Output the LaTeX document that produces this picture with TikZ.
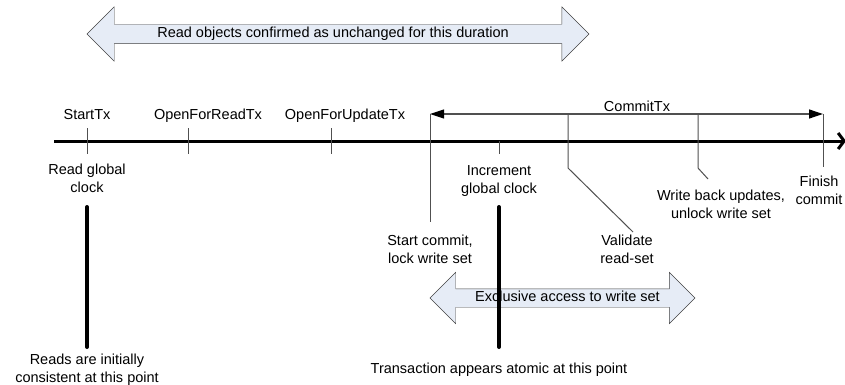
\documentclass[tikz,border=0pt]{standalone}
\usepackage{fontspec}
\setmainfont{Liberation Sans}
\usetikzlibrary{arrows.meta,shapes.arrows,positioning}
\definecolor{spanfill}{RGB}{230,236,246}
\definecolor{tickgray}{RGB}{80,80,80}

\begin{document}
\begin{tikzpicture}[x=1pt, y=-1pt]
      % fix the page to the size of the original drawing
      \useasboundingbox (0,0) rectangle (845,385);
      \tikzstyle{format} = [inner sep=0pt, align=center, font=\fontsize{14.5}{18}\selectfont]
      \tikzstyle{span} = [double arrow, draw=black!75, fill=spanfill, thin, double arrow tip angle=90, inner xsep=0pt, text height=10.5pt, text depth=3pt, font=\fontsize{14.5}{18}\selectfont]
      \tikzstyle{timeline} = [draw, line width=3pt, -{Straight Barb[length=6pt, width=16pt]}]
      \tikzstyle{tickline} = [draw=tickgray, line width=1pt]
      \tikzstyle{bracket} = [draw=tickgray, line width=1.2pt, {Triangle[length=14pt, width=9pt, color=black]}-{Triangle[length=14pt, width=9pt, color=black]}]
      \tikzstyle{instant} = [draw, line width=4pt, line cap=round]
        % duration of the read validity
        \node [span, minimum height=502pt, inner ysep=2.75pt, double arrow head extend=17.5pt] (readSpan) at (338,34) {Read objects confirmed as unchanged for this duration\hspace*{10pt}};
        % the time axis
        \coordinate (axisStart) at (54,141);
        \coordinate (axisEnd) at (846,141);
        \path [timeline] (axisStart) -- (axisEnd);
        \foreach \x/\n in {87/start, 188/read, 331/update} {
          \coordinate (\n Top) at (\x,128);
          \coordinate (\n Bot) at (\x,154);
          \path [tickline] (\n Top) -- (\n Bot);
        }
        \node [format, anchor=base] (startTx) at (87,119) {StartTx};
        \node [format, anchor=base] (openRead) at (208,119) {OpenForReadTx};
        \node [format, anchor=base] (openUpdate) at (345,119) {OpenForUpdateTx};
        \node [format, below=10pt of startBot] (readClock) {Read global\\clock};
        % commit phase
        \coordinate (commitStart) at (430,114);
        \coordinate (commitEnd) at (823,114);
        \path [bracket] (commitStart) -- (commitEnd);
        \node [format, anchor=base] (commitTx) at (637,111) {CommitTx};
        \coordinate (lockEnd) at (430,222);
        \path [tickline] (commitStart) -- (lockEnd);
        \node [format, below=13pt of lockEnd] (startCommit) {Start commit,\\lock write set};
        \coordinate (incTop) at (499,141);
        \coordinate (incBot) at (499,154);
        \path [tickline] (incTop) -- (incBot);
        \node [format, below=11pt of incBot] (incClock) {Increment\\global clock};
        \coordinate (valTop) at (568,114);
        \coordinate (valBend) at (568,168);
        \coordinate (valEnd) at (633,232);
        \path [tickline] (valTop) -- (valBend) -- (valEnd);
        \node [format, below=3pt of valEnd, xshift=-6pt] (validate) {Validate\\read-set};
        \coordinate (wbTop) at (698,114);
        \coordinate (wbBend) at (698,168);
        \coordinate (wbEnd) at (708,179);
        \path [tickline] (wbTop) -- (wbBend) -- (wbEnd);
        \node [format, below=11pt of wbEnd, xshift=13pt] (writeBack) {Write back updates,\\unlock write set};
        \coordinate (finBot) at (823,167);
        \path [tickline] (commitEnd) -- (finBot);
        \node [format, below=9pt of finBot, xshift=-4pt] (finish) {Finish\\commit};
        % exclusive access
        \node [span, minimum height=265pt, inner ysep=2.25pt, double arrow head extend=16.5pt] (exclusive) at (562.5,298) {\hspace*{10pt}Exclusive access to write set};
        % points of consistency
        \coordinate (readPt) at (87,207);
        \coordinate (readPtEnd) at (87,347);
        \path [instant] (readPt) -- (readPtEnd);
        \node [format, below=7pt of readPtEnd] (readsOK) {Reads are initially\\consistent at this point};
        \coordinate (atomicPt) at (499,207);
        \coordinate (atomicPtEnd) at (499,347);
        \path [instant] (atomicPt) -- (atomicPtEnd);
        \node [format, below=16pt of atomicPtEnd] (atomic) {Transaction appears atomic at this point};
\end{tikzpicture}
\end{document}
